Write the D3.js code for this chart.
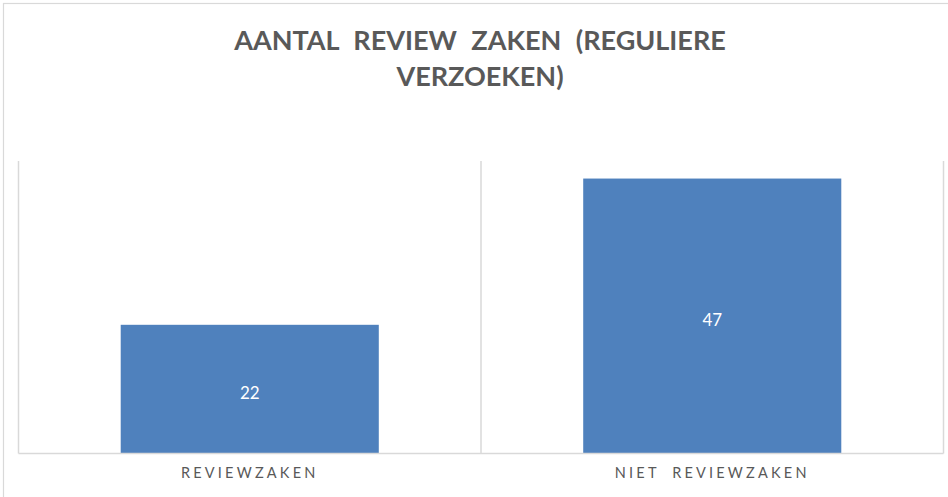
<!DOCTYPE html>
<html>
<head>
  <meta charset="utf-8">
  <title>Aantal review zaken</title>
  <script src="https://cdn.jsdelivr.net/npm/d3@7"></script>
  <style>
    body { margin: 0; background: #fff; }
    svg { display: block; }
  </style>
</head>
<body>
  <script>
  // data
  var categories = ["REVIEWZAKEN", "NIET REVIEWZAKEN"];
  var values = [22, 47];
  var titleLines = ["AANTAL REVIEW ZAKEN (REGULIERE", "VERZOEKEN)"];
  var yMax = 50;

  var width = 948, height = 497;
  var margin = { top: 161, bottom: 43.5, left: 18.5, right: 4.5 };

  var svg = d3.select("body").append("svg")
    .attr("width", width).attr("height", height);

  // outer chart border
  svg.append("rect")
    .attr("x", 3.5).attr("y", 3.5)
    .attr("width", width + 10).attr("height", height + 10)
    .attr("fill", "#fff")
    .attr("stroke", "#d9d9d9").attr("stroke-width", 1.2);

  // title
  svg.append("g").selectAll("text")
    .data(titleLines)
    .join("text")
    .attr("x", 480)
    .attr("y", function(d, i) { return 50 + i * 36; })
    .attr("text-anchor", "middle")
    .attr("font-family", "Lato, 'Open Sans', sans-serif")
    .attr("font-weight", "bold")
    .attr("font-size", "27px")
    .attr("fill", "#595959")
    .style("word-spacing", "8px")
    .text(function(d) { return d; });

  // scales
  var x = d3.scaleBand()
    .domain(categories)
    .range([margin.left, width - margin.right])
    .paddingInner(0.442)
    .paddingOuter(0.221);

  var y = d3.scaleLinear()
    .domain([0, yMax])
    .range([height - margin.bottom, margin.top]);

  // vertical gridlines at category boundaries
  var bounds = d3.range(categories.length + 1).map(function(i) {
    return margin.left + i * x.step();
  });
  svg.append("g").selectAll("line")
    .data(bounds)
    .join("line")
    .attr("x1", function(d) { return d; })
    .attr("x2", function(d) { return d; })
    .attr("y1", y(yMax))
    .attr("y2", y(0))
    .attr("stroke", "#d9d9d9")
    .attr("stroke-width", 1.5);

  // bars
  svg.append("g").selectAll("rect")
    .data(values)
    .join("rect")
    .attr("x", function(d, i) { return x(categories[i]); })
    .attr("y", function(d) { return y(d); })
    .attr("width", x.bandwidth())
    .attr("height", function(d) { return y(0) - y(d); })
    .attr("fill", "#4f81bd");

  // data labels, centered in the bar
  svg.append("g").selectAll("text")
    .data(values)
    .join("text")
    .attr("x", function(d, i) { return x(categories[i]) + x.bandwidth() / 2; })
    .attr("y", function(d) { return (y(d) + y(0)) / 2 + 4; })
    .attr("dy", "0.35em")
    .attr("text-anchor", "middle")
    .attr("font-family", "Lato, 'Open Sans', sans-serif")
    .attr("font-size", "17px")
    .attr("fill", "#fff")
    .text(function(d) { return d; });

  // x axis
  var axisx = d3.axisBottom(x).tickSize(0).tickPadding(14);
  var gx = svg.append("g")
    .attr("transform", "translate(0," + y(0) + ")")
    .call(axisx);
  gx.select(".domain")
    .attr("stroke", "#d9d9d9")
    .attr("stroke-width", 1.5)
    .attr("d", "M" + margin.left + ",0H" + (width - margin.right));
  gx.selectAll("text")
    .attr("font-family", "Lato, 'Open Sans', sans-serif")
    .attr("font-size", "14.5px")
    .attr("fill", "#595959")
    .style("letter-spacing", "3.2px")
    .style("word-spacing", "6px");
  </script>
</body>
</html>
